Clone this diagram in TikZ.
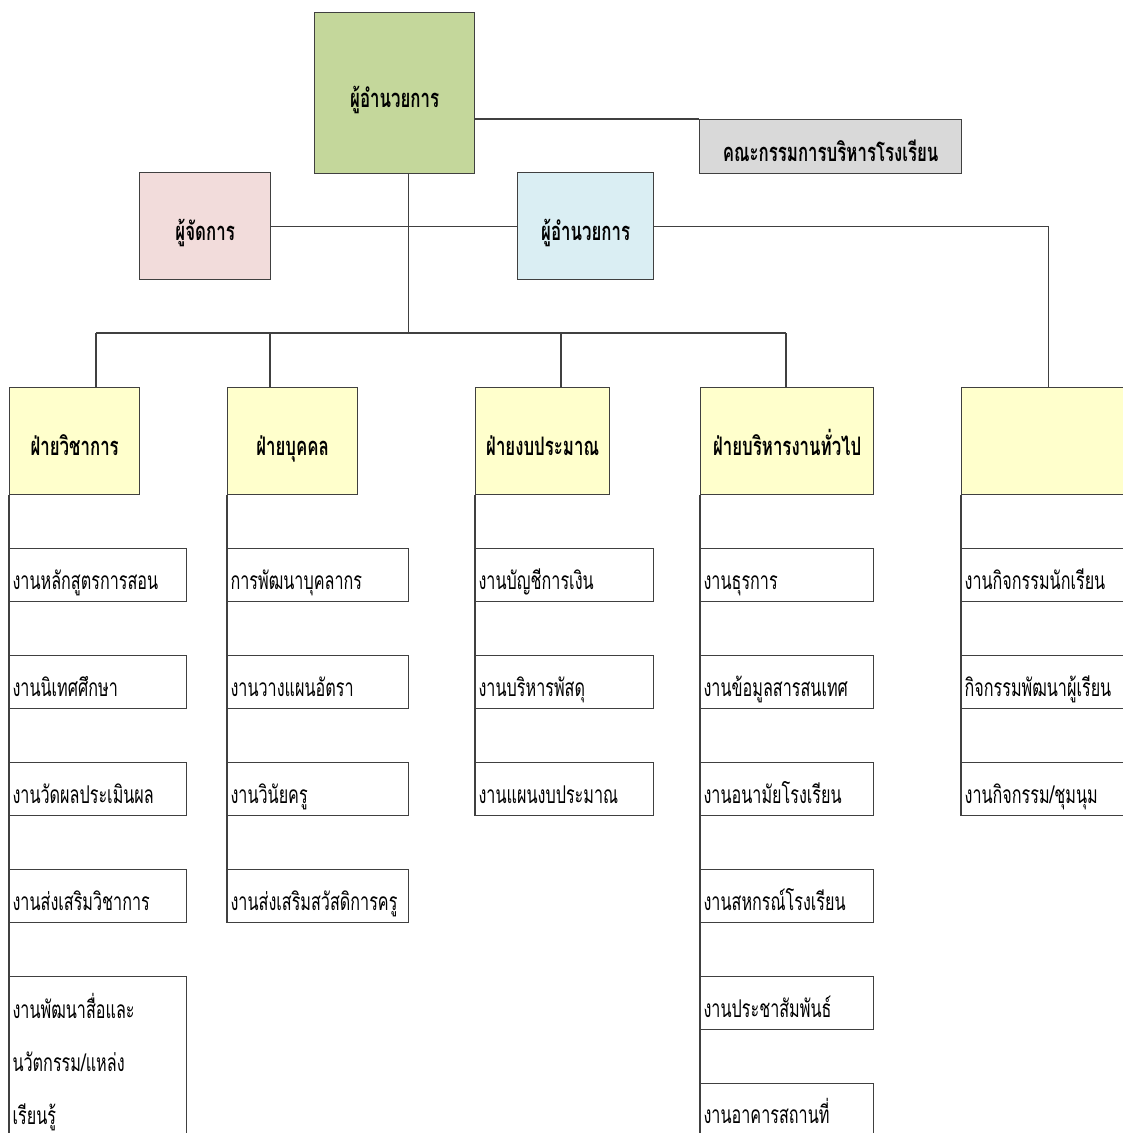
\documentclass[tikz,border=0pt]{standalone}
\usepackage{fontspec}
\newfontfamily\thai[Script=Thai,FakeStretch=0.66]{Loma}
\definecolor{cgreen}{HTML}{C4D79B}
\definecolor{cgray}{HTML}{D9D9D9}
\definecolor{cpink}{HTML}{F2DCDB}
\definecolor{cblue}{HTML}{DAEEF3}
\definecolor{cyellow}{HTML}{FFFFCC}
\definecolor{cline}{HTML}{404040}
\begin{document}
\begin{tikzpicture}[x=1pt,y=-1pt,
  box/.style={draw=cline,line width=1.3pt,rectangle,anchor=north west,inner sep=0pt,text height=29pt,text depth=0pt,font=\thai\bfseries\fontsize{25.5}{30}\selectfont},
  head/.style={box,fill=cyellow},
  sub/.style={draw=cline,line width=1.2pt,rectangle,anchor=north west,inner xsep=3pt,inner ysep=0pt,minimum height=53pt,text height=29pt,text depth=0pt,align=left,font=\thai\fontsize{24.5}{53}\selectfont},
  conn/.style={draw=cline,line width=1.2pt}]
\useasboundingbox (0,0) rectangle (1123,1133);
\clip (0,0) rectangle (1123,1133);
% top level
\node[box,fill=cgreen,minimum width=160pt,minimum height=161pt] (dir) at (314,12) {ผู้อำนวยการ};
\node[box,fill=cgray,minimum width=262pt,minimum height=54pt] (board) at (699,119) {คณะกรรมการบริหารโรงเรียน};
\node[box,fill=cpink,minimum width=131pt,minimum height=107pt] (mgr) at (139,172) {ผู้จัดการ};
\node[box,fill=cblue,minimum width=136pt,minimum height=107pt] (vp) at (517,172) {ผู้อำนวยการ};
% headers
\node[head,minimum width=130pt,minimum height=107pt] (h1) at (9,387) {ฝ่ายวิชาการ};
\node[head,minimum width=130pt,minimum height=107pt] (h2) at (227,387) {ฝ่ายบุคคล};
\node[head,minimum width=134pt,minimum height=107pt] (h3) at (475,387) {ฝ่ายงบประมาณ};
\node[head,minimum width=173pt,minimum height=107pt] (h4) at (700,387) {ฝ่ายบริหารงานทั่วไป};
\node[head,minimum width=174pt,minimum height=107pt] (h5) at (961,387) {};
% column 1
\node[sub,text width=171pt] (a1) at (9,548) {งานหลักสูตรการสอน};
\node[sub,text width=171pt] (a2) at (9,655) {งานนิเทศศึกษา};
\node[sub,text width=171pt] (a3) at (9,762) {งานวัดผลประเมินผล};
\node[sub,text width=171pt] (a4) at (9,869) {งานส่งเสริมวิชาการ};
\node[sub,text width=171pt,minimum height=170pt,text height=,text depth=] (a5) at (9,976) {งานพัฒนาสื่อและ\\นวัตกรรม/แหล่ง\\เรียนรู้};
% column 2
\node[sub,text width=175pt] (b1) at (227,548) {การพัฒนาบุคลากร};
\node[sub,text width=175pt] (b2) at (227,655) {งานวางแผนอัตรา};
\node[sub,text width=175pt] (b3) at (227,762) {งานวินัยครู};
\node[sub,text width=175pt] (b4) at (227,869) {งานส่งเสริมสวัสดิการครู};
% column 3
\node[sub,text width=172pt] (c1) at (475,548) {งานบัญชีการเงิน};
\node[sub,text width=172pt] (c2) at (475,655) {งานบริหารพัสดุ};
\node[sub,text width=172pt] (c3) at (475,762) {งานแผนงบประมาณ};
% column 4
\node[sub,text width=167pt] (d1) at (700,548) {งานธุรการ};
\node[sub,text width=167pt] (d2) at (700,655) {งานข้อมูลสารสนเทศ};
\node[sub,text width=167pt] (d3) at (700,762) {งานอนามัยโรงเรียน};
\node[sub,text width=167pt] (d4) at (700,869) {งานสหกรณ์โรงเรียน};
\node[sub,text width=167pt] (d5) at (700,976) {งานประชาสัมพันธ์};
\node[sub,text width=167pt,text height=27pt] (d6) at (700,1083) {งานอาคารสถานที่};
% column 5
\node[sub,text width=168pt] (e1) at (961,548) {งานกิจกรรมนักเรียน};
\node[sub,text width=168pt] (e2) at (961,655) {กิจกรรมพัฒนาผู้เรียน};
\node[sub,text width=168pt] (e3) at (961,762) {งานกิจกรรม/ชุมนุม};
% connectors
\coordinate (t0) at ([xshift=14pt]dir.south);
\coordinate (busL) at (96,333);
\coordinate (busR) at (786,333);
\draw[conn] (dir.east |- board.north) -- (board.north west);
\draw[conn] (t0) -- (t0 |- busL);
\draw[conn] (mgr.east) -- (vp.west);
\draw[conn] (busL) -- (busR);
\draw[conn] (busL) -- (busL |- h1.north);
\draw[conn] (270,333) -- (270,387);
\draw[conn] (561,333) -- (561,387);
\draw[conn] (busR) -- (busR |- h4.north);
\draw[conn] (vp.east) -- (vp.east -| h5.north) -- (h5.north);
% column spines
\draw[conn] (h1.south west) -- (a5.south west);
\draw[conn] (h2.south west) -- (b4.south west);
\draw[conn] (h3.south west) -- (c3.south west);
\draw[conn] (h4.south west) -- ([yshift=-60pt]d6.south west);
\draw[conn] (h5.south west) -- (e3.south west);
\end{tikzpicture}
\end{document}
